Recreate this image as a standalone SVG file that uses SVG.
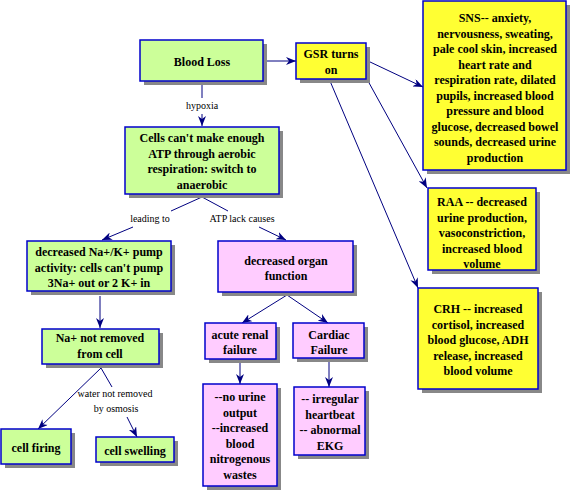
<svg xmlns="http://www.w3.org/2000/svg" width="572" height="491" viewBox="0 0 572 491">
<style>
.b{stroke:#0000CC;stroke-width:1.5}
.sh{fill:#888888}
.g{fill:#CCFF99}
.y{fill:#FFFF33}
.p{fill:#FFCCFF}
.t{font-family:"Liberation Serif","Times New Roman",serif;font-weight:bold;font-size:12px;fill:#000;text-anchor:middle}
.l{font-family:"Liberation Serif","Times New Roman",serif;font-size:10px;fill:#000;text-anchor:middle}
.c{stroke:#000080;stroke-width:1;fill:none}
</style>
<defs>
<marker id="ah" viewBox="0 0 10 8" refX="10" refY="4" markerWidth="10" markerHeight="8" markerUnits="userSpaceOnUse" orient="auto">
<path d="M0,0 L10,4 L0,8 L3,4 z" fill="#000080"/>
</marker>
</defs>
<rect width="572" height="491" fill="#FFFFFF"/>
<g id="connectors">
<line class="c" x1="267" y1="61" x2="296" y2="61" marker-end="url(#ah)"/>
<line class="c" x1="202" y1="85" x2="202" y2="98"/>
<line class="c" x1="202" y1="114" x2="202" y2="126" marker-end="url(#ah)"/>
<text class="l" x="202" y="109">hypoxia</text>
<polyline class="c" points="171,211 202,197 228,211"/>
<text class="l" x="150" y="222">leading to</text>
<text class="l" x="242" y="222">ATP lack causes</text>
<line class="c" x1="133" y1="227" x2="102" y2="240" marker-end="url(#ah)"/>
<line class="c" x1="259" y1="227" x2="286" y2="240" marker-end="url(#ah)"/>
<line class="c" x1="100" y1="296" x2="100" y2="328" marker-end="url(#ah)"/>
<line class="c" x1="101" y1="368" x2="38" y2="429" marker-end="url(#ah)"/>
<line class="c" x1="101" y1="368" x2="112" y2="387"/>
<text class="l" x="115" y="397">water not removed</text>
<text class="l" x="116" y="412">by osmosis</text>
<line class="c" x1="127" y1="417" x2="137" y2="437" marker-end="url(#ah)"/>
<line class="c" x1="287" y1="295" x2="242" y2="323" marker-end="url(#ah)"/>
<line class="c" x1="287" y1="295" x2="328" y2="323" marker-end="url(#ah)"/>
<line class="c" x1="240" y1="362" x2="240" y2="384" marker-end="url(#ah)"/>
<line class="c" x1="329" y1="362" x2="329" y2="387" marker-end="url(#ah)"/>
<line class="c" x1="368" y1="61" x2="423" y2="87" marker-end="url(#ah)"/>
<line class="c" x1="368" y1="81" x2="427" y2="188" marker-end="url(#ah)"/>
<line class="c" x1="330" y1="81" x2="418" y2="288" marker-end="url(#ah)"/>
</g>
<g id="blood-loss">
<rect class="sh" x="144" y="44" width="123" height="41"/>
<rect class="b g" x="140" y="40" width="123" height="41"/>
<text class="t" x="202" y="66">Blood Loss</text>
</g>
<g id="gsr">
<rect class="sh" x="300" y="47" width="70" height="36"/>
<rect class="b y" x="296" y="43" width="70" height="36"/>
<text class="t" x="331" y="58">GSR turns</text>
<text class="t" x="331" y="74">on</text>
</g>
<g id="sns">
<rect class="sh" x="427" y="5" width="143" height="169"/>
<rect class="b y" x="423" y="1" width="143" height="169"/>
<text class="t" x="495" y="22">SNS-- anxiety,</text>
<text class="t" x="495" y="37.5">nervousness, sweating,</text>
<text class="t" x="495" y="53">pale cool skin, increased</text>
<text class="t" x="495" y="68.5">heart rate and</text>
<text class="t" x="495" y="84">respiration rate, dilated</text>
<text class="t" x="495" y="99.5">pupils, increased blood</text>
<text class="t" x="495" y="115">pressure and blood</text>
<text class="t" x="495" y="130.5">glucose, decreased bowel</text>
<text class="t" x="495" y="146">sounds, decreased urine</text>
<text class="t" x="495" y="161.5">production</text>
</g>
<g id="raa">
<rect class="sh" x="432" y="192" width="108" height="82"/>
<rect class="b y" x="428" y="188" width="108" height="82"/>
<text class="t" x="482" y="206">RAA -- decreased</text>
<text class="t" x="482" y="221.5">urine production,</text>
<text class="t" x="482" y="237">vasoconstriction,</text>
<text class="t" x="482" y="252.5">increased blood</text>
<text class="t" x="482" y="268">volume</text>
</g>
<g id="crh">
<rect class="sh" x="422" y="292" width="120" height="101"/>
<rect class="b y" x="418" y="288" width="120" height="101"/>
<text class="t" x="478" y="313">CRH -- increased</text>
<text class="t" x="478" y="328.5">cortisol, increased</text>
<text class="t" x="478" y="344">blood glucose, ADH</text>
<text class="t" x="478" y="359.5">release, increased</text>
<text class="t" x="478" y="375">blood volume</text>
</g>
<g id="cells">
<rect class="sh" x="129" y="131" width="154" height="67"/>
<rect class="b g" x="125" y="127" width="154" height="67"/>
<text class="t" x="202" y="142">Cells can't make enough</text>
<text class="t" x="202" y="157.5">ATP through aerobic</text>
<text class="t" x="202" y="173">respiration: switch to</text>
<text class="t" x="202" y="188.5">anaerobic</text>
</g>
<g id="nak">
<rect class="sh" x="31" y="245" width="144" height="50"/>
<rect class="b g" x="27" y="241" width="144" height="50"/>
<text class="t" x="99" y="256">decreased Na+/K+ pump</text>
<text class="t" x="99" y="271.5">activity: cells can't pump</text>
<text class="t" x="99" y="287">3Na+ out or 2 K+ in</text>
</g>
<g id="na-not-removed">
<rect class="sh" x="46" y="333" width="117" height="35"/>
<rect class="b g" x="42" y="329" width="117" height="35"/>
<text class="t" x="100" y="342">Na+ not removed</text>
<text class="t" x="100" y="358">from cell</text>
</g>
<g id="cell-firing">
<rect class="sh" x="5" y="433" width="70" height="35"/>
<rect class="b g" x="1" y="429" width="70" height="35"/>
<text class="t" x="36" y="452">cell firing</text>
</g>
<g id="cell-swelling">
<rect class="sh" x="100" y="441" width="78" height="25"/>
<rect class="b g" x="96" y="437" width="78" height="25"/>
<text class="t" x="135" y="455">cell swelling</text>
</g>
<g id="organ">
<rect class="sh" x="222" y="245" width="135" height="51"/>
<rect class="b p" x="218" y="241" width="135" height="51"/>
<text class="t" x="286" y="265">decreased organ</text>
<text class="t" x="286" y="280">function</text>
</g>
<g id="renal">
<rect class="sh" x="209" y="327" width="71" height="36"/>
<rect class="b p" x="205" y="323" width="71" height="36"/>
<text class="t" x="240" y="339">acute renal</text>
<text class="t" x="240" y="354">failure</text>
</g>
<g id="cardiac">
<rect class="sh" x="297" y="327" width="71" height="35"/>
<rect class="b p" x="293" y="323" width="71" height="35"/>
<text class="t" x="329" y="339">Cardiac</text>
<text class="t" x="329" y="354">Failure</text>
</g>
<g id="no-urine">
<rect class="sh" x="207" y="388" width="74" height="102"/>
<rect class="b p" x="203" y="384" width="74" height="102"/>
<text class="t" x="240" y="401">--no urine</text>
<text class="t" x="240" y="416.5">output</text>
<text class="t" x="240" y="432">--increased</text>
<text class="t" x="240" y="447.5">blood</text>
<text class="t" x="240" y="463">nitrogenous</text>
<text class="t" x="240" y="478.5">wastes</text>
</g>
<g id="irregular">
<rect class="sh" x="298" y="391" width="71" height="68"/>
<rect class="b p" x="294" y="387" width="71" height="68"/>
<text class="t" x="330" y="403">-- irregular</text>
<text class="t" x="330" y="418.5">heartbeat</text>
<text class="t" x="330" y="434">-- abnormal</text>
<text class="t" x="330" y="449.5">EKG</text>
</g>
</svg>
